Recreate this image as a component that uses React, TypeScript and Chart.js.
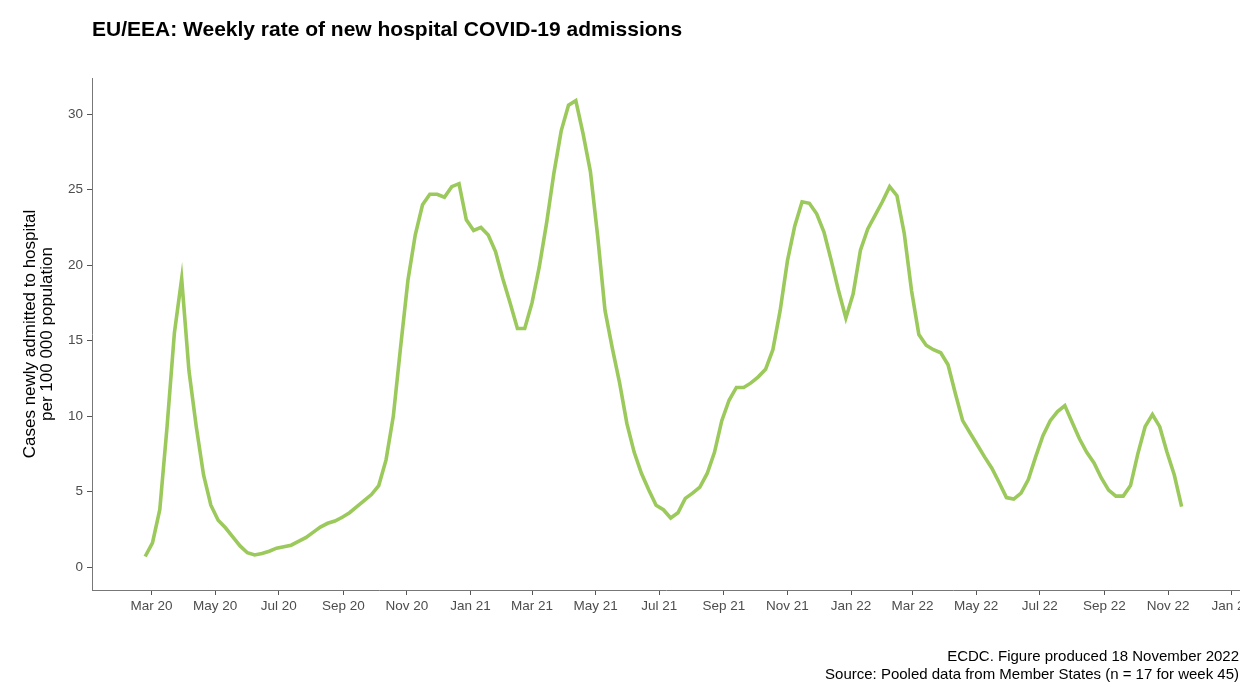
import React, { useEffect, useRef } from "react";
import { Chart, registerables } from "chart.js";
Chart.register(...registerables);

const TITLE = "EU/EEA: Weekly rate of new hospital COVID-19 admissions";
const FOOT1 = "ECDC. Figure produced 18 November 2022";
const FOOT2 = "Source: Pooled data from Member States (n = 17 for week 45)";
const Y_TITLE = ["Cases newly admitted to hospital", "per 100 000 population"];

// first week start (Monday of week 9, 2020)
const START_DATE = "2020-02-24";
const ORIGIN_DATE = "2020-03-01";

const rates: number[] = [
  0.7, 1.6, 3.8, 9.3, 15.5, 19.1, 13.0, 9.3, 6.1, 4.1,
  3.1, 2.6, 2.0, 1.4, 0.95, 0.8, 0.9, 1.05, 1.25, 1.35,
  1.45, 1.7, 1.95, 2.3, 2.65, 2.9, 3.05, 3.3, 3.6, 4.0,
  4.4, 4.8, 5.4, 7.1, 10.0, 14.6, 19.0, 22.0, 24.0, 24.7,
  24.7, 24.5, 25.2, 25.4, 23.0, 22.3, 22.5, 22.0, 20.9, 19.1,
  17.5, 15.8, 15.8, 17.5, 19.9, 22.8, 26.1, 28.9, 30.6, 30.9,
  28.7, 26.2, 21.9, 17.0, 14.5, 12.2, 9.5, 7.6, 6.2, 5.1,
  4.1, 3.8, 3.25, 3.6, 4.55, 4.9, 5.3, 6.2, 7.6, 9.7,
  11.05, 11.9, 11.9, 12.2, 12.6, 13.1, 14.4, 17.0, 20.3, 22.6,
  24.2, 24.1, 23.4, 22.2, 20.3, 18.3, 16.5, 18.1, 21.0, 22.4,
  23.3, 24.2, 25.2, 24.6, 22.1, 18.3, 15.4, 14.7, 14.4, 14.2,
  13.4, 11.5, 9.7, 8.9, 8.1, 7.3, 6.55, 5.6, 4.6, 4.5,
  4.9, 5.8, 7.3, 8.7, 9.7, 10.3, 10.7, 9.6, 8.5, 7.6,
  6.9, 5.9, 5.1, 4.7, 4.7, 5.4, 7.5, 9.3, 10.1, 9.3,
  7.6, 6.1, 4.0,
];

const tickDates = [
  "2020-03-01", "2020-05-01", "2020-07-01", "2020-09-01", "2020-11-01",
  "2021-01-01", "2021-03-01", "2021-05-01", "2021-07-01", "2021-09-01", "2021-11-01",
  "2022-01-01", "2022-03-01", "2022-05-01", "2022-07-01", "2022-09-01", "2022-11-01",
  "2023-01-01",
];
const tickLabels = [
  "Mar 20", "May 20", "Jul 20", "Sep 20", "Nov 20",
  "Jan 21", "Mar 21", "May 21", "Jul 21", "Sep 21", "Nov 21",
  "Jan 22", "Mar 22", "May 22", "Jul 22", "Sep 22", "Nov 22",
  "Jan 23",
];
const yTicks = [0, 5, 10, 15, 20, 25, 30];

const DAY = 86400000;
const dayOf = (s: string) => (Date.parse(s + "T00:00:00Z") - Date.parse(ORIGIN_DATE + "T00:00:00Z")) / DAY;

export default function App() {
  const ref = useRef<HTMLCanvasElement>(null);
  useEffect(() => {
    const start = dayOf(START_DATE);
    const points = rates.map((v, i) => ({ x: start + 7 * i, y: v }));
    const tickVals = tickDates.map(dayOf);
    const font = "'Liberation Sans', Arial, sans-serif";
    const textPlugin = {
      id: "texts",
      afterDraw(chart: any) {
        const ctx = chart.ctx;
        ctx.save();
        ctx.fillStyle = "#000";
        ctx.font = `bold 21px ${font}`;
        ctx.textAlign = "left";
        ctx.textBaseline = "alphabetic";
        ctx.fillText(TITLE, 92, 36);
        ctx.font = `15px ${font}`;
        ctx.textAlign = "right";
        ctx.fillText(FOOT1, 1239, 661);
        ctx.fillText(FOOT2, 1239, 679);
        ctx.restore();
      },
    };
    const chart = new Chart(ref.current!, {
      type: "line",
      data: {
        datasets: [
          {
            data: points,
            borderColor: "#9bc95b",
            borderWidth: 3.6,
            pointRadius: 0,
            tension: 0,
            fill: false,
          },
        ],
      },
      options: {
        animation: false,
        responsive: false,
        devicePixelRatio: 1,
        layout: { padding: { top: 78, left: 0, right: 0, bottom: 0 } },
        plugins: { legend: { display: false }, tooltip: { enabled: false }, title: { display: false } },
        scales: {
          x: {
            type: "linear",
            min: -57,
            max: 1044,
            afterBuildTicks: (s: any) => {
              s.ticks = tickVals.map((v) => ({ value: v }));
            },
            afterFit: (s: any) => {
              s.height = 97;
              s.paddingRight = 0;
              s.paddingLeft = 0;
            },
            ticks: {
              autoSkip: false,
              maxRotation: 0,
              color: "#4d4d4d",
              font: { size: 13.5, family: font },
              padding: 3,
              callback: (v: any) => {
                const i = tickVals.indexOf(Number(v));
                return i >= 0 ? tickLabels[i] : "";
              },
            },
            grid: { display: true, drawOnChartArea: false, drawTicks: true, tickLength: 5, color: "#555" },
            border: { display: true, color: "#777", width: 1 },
          },
          y: {
            type: "linear",
            min: -1.52,
            max: 32.4,
            afterBuildTicks: (s: any) => {
              s.ticks = yTicks.map((v) => ({ value: v }));
            },
            afterFit: (s: any) => {
              s.width = 92;
            },
            ticks: { color: "#4d4d4d", font: { size: 13.5, family: font }, padding: 4 },
            grid: { display: true, drawOnChartArea: false, drawTicks: true, tickLength: 5, color: "#555" },
            border: { display: true, color: "#777", width: 1 },
            title: {
              display: true,
              text: Y_TITLE,
              color: "#000",
              font: { size: 17, family: font, lineHeight: 1.05 },
              padding: { top: 21, bottom: 6 },
            },
          },
        },
      },
      plugins: [textPlugin],
    } as any);
    return () => chart.destroy();
  }, []);
  return (
    <div style={{ position: "absolute", left: 0, top: 0, width: 1240, height: 687, background: "#fff" }}>
      <canvas ref={ref} width={1240} height={687} style={{ width: 1240, height: 687, display: "block" }} />
    </div>
  );
}
